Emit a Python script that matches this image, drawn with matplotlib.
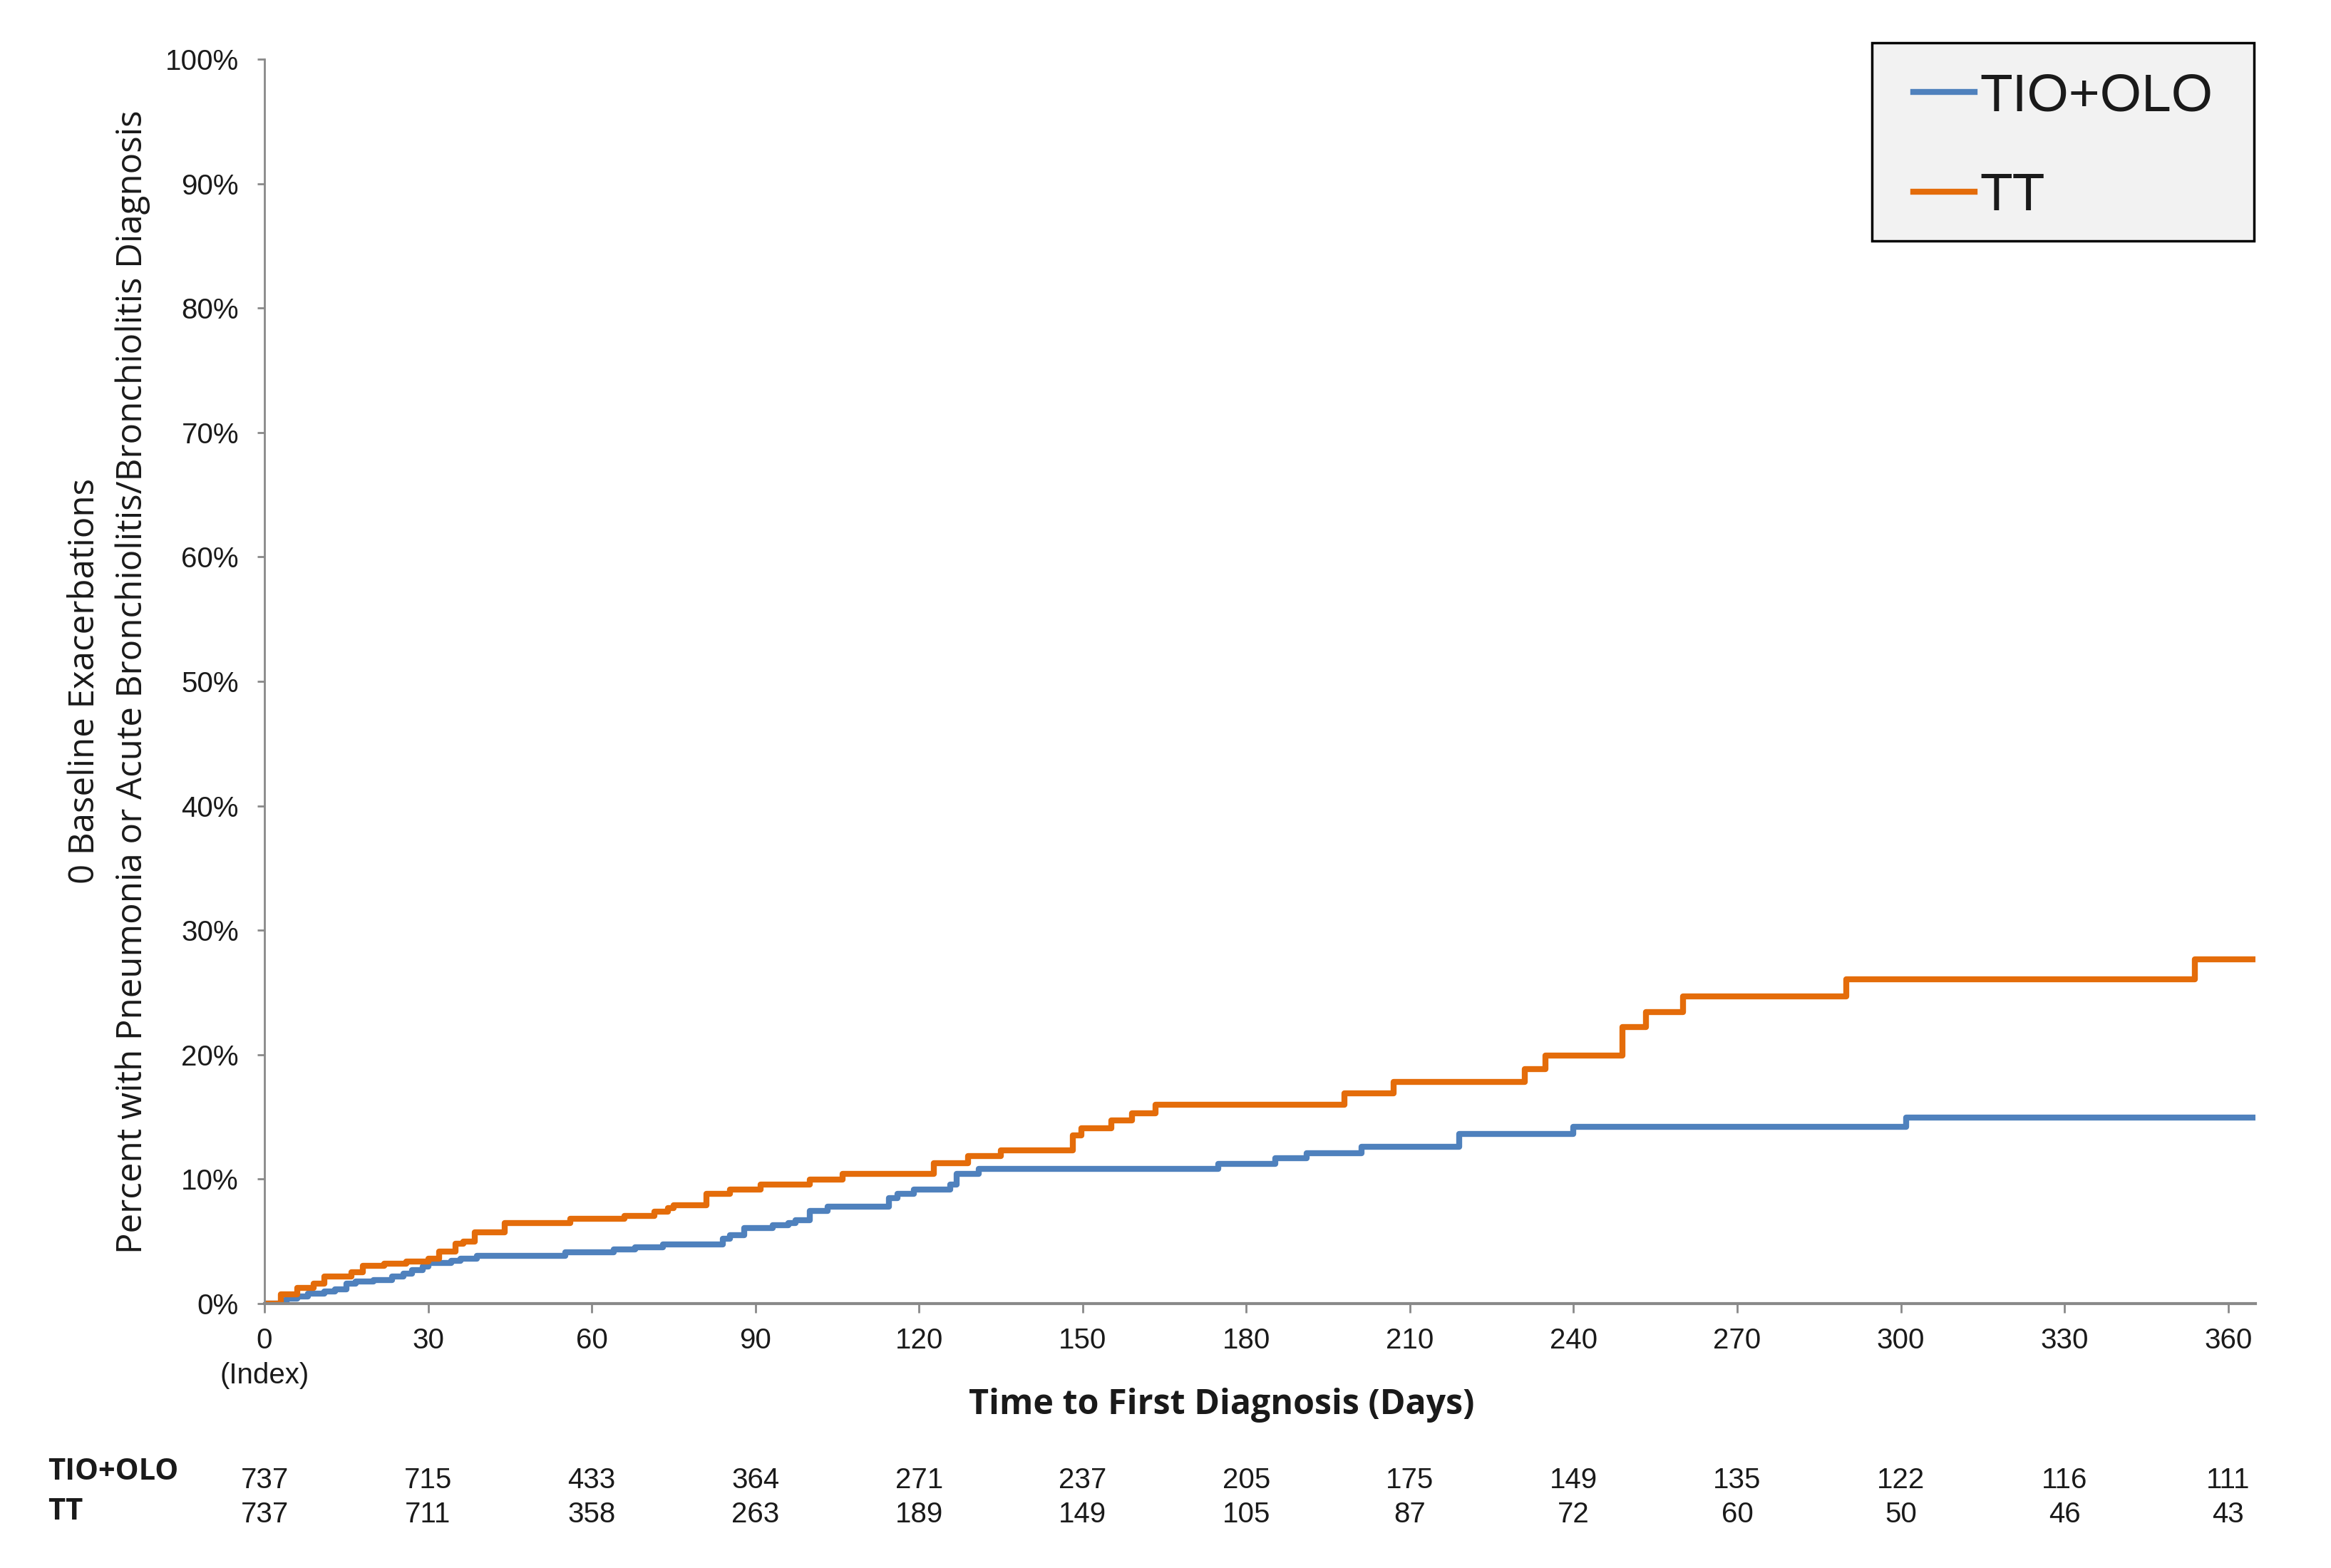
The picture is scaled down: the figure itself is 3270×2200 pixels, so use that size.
import matplotlib
matplotlib.use("Agg")
import matplotlib.pyplot as plt
import matplotlib.transforms as mtransforms
from matplotlib.patches import Rectangle

# cumulative incidence (%), step changes at given days
tio_days = [0, 1.7, 4, 6, 8, 11, 13, 15, 16.7, 20, 23.4, 25.5, 27, 29, 30, 34.3, 36, 39,
            55.2, 64, 68, 73, 84, 85.3, 88, 93.2, 96, 97.4, 100, 103.3, 114.5, 116, 119,
            125.7, 126.9, 131, 174.8, 185.3, 191.1, 201.1, 219, 239.9, 301, 365]
tio_pct = [0, 0, 0.42, 0.57, 0.8, 0.96, 1.15, 1.6, 1.8, 1.9, 2.2, 2.4, 2.7, 3.0, 3.25, 3.44, 3.63, 3.86,
           4.1, 4.36, 4.55, 4.78, 5.2, 5.5, 6.08, 6.3, 6.5, 6.7, 7.46, 7.8, 8.45, 8.8, 9.14,
           9.58, 10.44, 10.82, 11.24, 11.68, 12.1, 12.58, 13.65, 14.2, 14.92, 14.92]

tt_days = [0, 1.7, 3, 6, 9, 11, 16, 18, 22, 26, 30, 32, 35, 36.5, 38.5, 44, 56, 66, 71.5, 74,
           75, 81, 85.3, 91, 100, 106, 122.7, 129, 135, 148.2, 149.8, 155.2, 159, 163.3,
           198, 207, 231.1, 234.9, 248.9, 253.2, 260, 290, 353.9, 365]
tt_pct = [0, 0, 0.76, 1.24, 1.6, 2.2, 2.5, 3.06, 3.2, 3.4, 3.6, 4.2, 4.8, 5.0, 5.7, 6.5, 6.8, 7.07, 7.36, 7.65,
          7.93, 8.83, 9.18, 9.56, 9.94, 10.4, 11.3, 11.84, 12.3, 13.5, 14.07, 14.7, 15.3, 15.98,
          16.9, 17.8, 18.84, 19.93, 22.2, 23.45, 24.67, 26.04, 27.68, 27.68]

xticks = [0, 30, 60, 90, 120, 150, 180, 210, 240, 270, 300, 330, 360]
risk_tio = [737, 715, 433, 364, 271, 237, 205, 175, 149, 135, 122, 116, 111]
risk_tt = [737, 711, 358, 263, 189, 149, 105, 87, 72, 60, 50, 46, 43]

blue = "#4f81bd"
orange = "#e46c0a"
grey = "#898989"
ink = "#1a1a1a"

W, H = 3270, 2200
fig = plt.figure(figsize=(W / 100, H / 100), dpi=100)
ax = fig.add_axes([371 / W, 1 - 1829 / H, (3164 - 371) / W, (1829 - 83) / H])

ax.plot(tio_days, tio_pct, drawstyle="steps-post", color=blue, lw=6, label="TIO+OLO")
ax.plot(tt_days, tt_pct, drawstyle="steps-post", color=orange, lw=6, label="TT")

ax.set_xlim(0, 365)
ax.set_ylim(0, 100)
ax.set_yticks(range(0, 101, 10))
ax.set_yticklabels(["{}%".format(v) for v in range(0, 101, 10)], fontsize=29,
                   family="Liberation Sans", color=ink)
ax.set_xticks(xticks)
ax.set_xticklabels(["0\n(Index)"] + [str(v) for v in xticks[1:]], fontsize=29,
                   family="Liberation Sans", color=ink, va="top", linespacing=1.35)

for s in ["top", "right"]:
    ax.spines[s].set_visible(False)
ax.spines["left"].set_color(grey)
ax.spines["left"].set_linewidth(2)
ax.spines["bottom"].set_color(grey)
ax.spines["bottom"].set_linewidth(3)
ax.tick_params(axis="y", direction="out", length=7, width=2, color=grey, pad=19)
ax.tick_params(axis="x", direction="out", length=9, width=2, color=grey, pad=15)

fig.text(119 / W, 1 - 955 / H, "0 Baseline Exacerbations", rotation=90, ha="center",
         va="center", fontsize=35.5, family="Open Sans", color=ink)
fig.text(186 / W, 1 - 957 / H,
         "Percent with Pneumonia or Acute Bronchiolitis/Bronchiolitis Diagnosis",
         rotation=90, ha="center", va="center", fontsize=35.5, family="Open Sans", color=ink)

fig.text(1714 / W, 1 - 1972 / H, "Time to First Diagnosis (Days)", ha="center", va="center",
         fontsize=34.8, family="Open Sans", weight="bold", color=ink)

# number at risk
tr = mtransforms.blended_transform_factory(ax.transData, fig.transFigure)
fig.text(67 / W, 1 - 2066 / H, "TIO+OLO", ha="left", va="center", fontsize=30,
         family="Open Sans", weight="bold", color=ink)
fig.text(67 / W, 1 - 2121 / H, "TT", ha="left", va="center", fontsize=30,
         family="Open Sans", weight="bold", color=ink)
for x, a, b in zip(xticks, risk_tio, risk_tt):
    ax.text(x, 1 - 2077 / H, str(a), transform=tr, ha="center", va="center", fontsize=29,
            family="Liberation Sans", color=ink)
    ax.text(x, 1 - 2125 / H, str(b), transform=tr, ha="center", va="center", fontsize=29,
            family="Liberation Sans", color=ink)

# legend box drawn separately so its padding matches
box = Rectangle((2626 / W, 1 - 338 / H), (3162 - 2626) / W, (338 - 60) / H,
                transform=fig.transFigure, facecolor="#f2f2f2", edgecolor="black",
                linewidth=2.5, zorder=3, clip_on=False)
ax.add_artist(box)
leg = ax.legend(loc="upper left", bbox_to_anchor=(2684 / W, 1 - 101 / H),
                bbox_transform=fig.transFigure, frameon=False,
                handlelength=1.15, handletextpad=0.1, labelspacing=0.95, borderpad=0,
                borderaxespad=0, prop={"family": "Liberation Sans", "size": 54})
leg.set_zorder(5)
for t in leg.get_texts():
    t.set_color(ink)

fig.savefig("out.png", dpi=100)
